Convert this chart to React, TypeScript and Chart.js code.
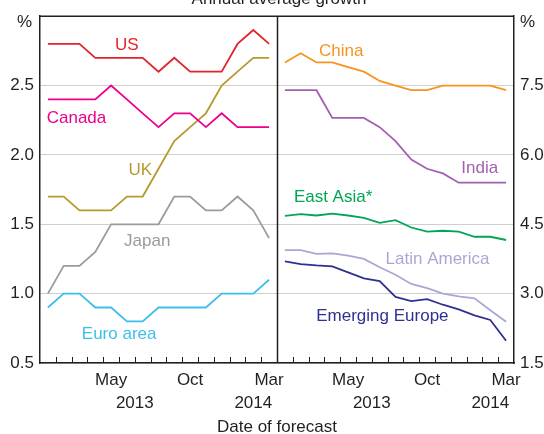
import React, { useEffect, useRef } from "react";
import { Chart, registerables } from "chart.js";

Chart.register(...registerables);

const months = ["Jan", "Feb", "Mar", "Apr", "May", "Jun", "Jul", "Aug", "Sep", "Oct", "Nov", "Dec", "Jan", "Feb", "Mar"];

// Left panel (% , 0.5–3.0)
const us = [2.8, 2.8, 2.8, 2.7, 2.7, 2.7, 2.7, 2.6, 2.7, 2.6, 2.6, 2.6, 2.8, 2.9, 2.8];
const canada = [2.4, 2.4, 2.4, 2.4, 2.5, 2.4, 2.3, 2.2, 2.3, 2.3, 2.2, 2.3, 2.2, 2.2, 2.2];
const uk = [1.7, 1.7, 1.6, 1.6, 1.6, 1.7, 1.7, 1.9, 2.1, 2.2, 2.3, 2.5, 2.6, 2.7, 2.7];
const japan = [1.0, 1.2, 1.2, 1.3, 1.5, 1.5, 1.5, 1.5, 1.7, 1.7, 1.6, 1.6, 1.7, 1.6, 1.4];
const euroArea = [0.9, 1.0, 1.0, 0.9, 0.9, 0.8, 0.8, 0.9, 0.9, 0.9, 0.9, 1.0, 1.0, 1.0, 1.1];

// Right panel (% , 1.5–9.0)
const china = [8.0, 8.2, 8.0, 8.0, 7.9, 7.8, 7.6, 7.5, 7.4, 7.4, 7.5, 7.5, 7.5, 7.5, 7.4];
const india = [7.4, 7.4, 7.4, 6.8, 6.8, 6.8, 6.6, 6.3, 5.9, 5.7, 5.6, 5.4, 5.4, 5.4, 5.4];
const eastAsia = [4.68, 4.72, 4.69, 4.73, 4.69, 4.64, 4.53, 4.59, 4.43, 4.34, 4.36, 4.34, 4.23, 4.23, 4.16];
const latinAmerica = [3.94, 3.94, 3.86, 3.87, 3.82, 3.75, 3.57, 3.41, 3.21, 3.12, 3.0, 2.94, 2.9, 2.64, 2.39];
const emergingEurope = [3.7, 3.64, 3.61, 3.59, 3.46, 3.33, 3.27, 2.93, 2.84, 2.88, 2.76, 2.66, 2.53, 2.43, 1.98];

const leftTicks = [0.5, 1.0, 1.5, 2.0, 2.5, 3.0];
const rightTicks = [1.5, 3.0, 4.5, 6.0, 7.5, 9.0];
const monthTickIdx = [4, 9, 14];
const years = [
  { label: "2013", at: 5.5 },
  { label: "2014", at: 13 },
];

const FONT = "'Liberation Sans', Arial, sans-serif";
const TXT = "#231f20";

type S = { name: string; data: number[]; color: string; panel: 0 | 1; lx: number; ly: number };
const series: S[] = [
  { name: "US", data: us, color: "#e2242b", panel: 0, lx: 5.0, ly: 2.755 },
  { name: "Canada", data: canada, color: "#ec008c", panel: 0, lx: 1.81, ly: 2.23 },
  { name: "UK", data: uk, color: "#b59b2f", panel: 0, lx: 5.85, ly: 1.856 },
  { name: "Japan", data: japan, color: "#9b9b9b", panel: 0, lx: 6.29, ly: 1.341 },
  { name: "Euro area", data: euroArea, color: "#3dbfeb", panel: 0, lx: 4.51, ly: 0.67 },
  { name: "China", data: china, color: "#f7941d", panel: 1, lx: 3.56, ly: 8.14 },
  { name: "India", data: india, color: "#a45fb2", panel: 1, lx: 12.33, ly: 5.61 },
  { name: "East Asia*", data: eastAsia, color: "#00a651", panel: 1, lx: 3.05, ly: 4.98 },
  { name: "Latin America", data: latinAmerica, color: "#aaa7d7", panel: 1, lx: 9.66, ly: 3.65 },
  { name: "Emerging Europe", data: emergingEurope, color: "#2e3192", panel: 1, lx: 6.17, ly: 2.4 },
];

const N = months.length;

const overlay = {
  id: "overlay",
  afterDraw(chart: any) {
    const { ctx, chartArea: ca, scales } = chart;
    const x = scales.x, y = scales.y, y2 = scales.y2;
    ctx.save();
    ctx.strokeStyle = TXT;
    ctx.lineWidth = 1.5;
    // top border
    ctx.beginPath();
    ctx.moveTo(ca.left, ca.top);
    ctx.lineTo(ca.right, ca.top);
    ctx.stroke();
    // divider
    const dx = Math.round(x.getPixelForValue(N - 0.5)) + 0.5;
    ctx.beginPath();
    ctx.moveTo(dx, ca.top);
    ctx.lineTo(dx, ca.bottom);
    ctx.stroke();
    // inner minor ticks at month boundaries
    ctx.lineWidth = 1;
    for (let i = 0; i < 2 * N - 1; i++) {
      if (i === N - 1) continue;
      const px = Math.round(x.getPixelForValue(i + 0.5)) + 0.5;
      ctx.beginPath();
      ctx.moveTo(px, ca.bottom);
      ctx.lineTo(px, ca.bottom - 6);
      ctx.stroke();
    }
    ctx.fillStyle = TXT;
    ctx.font = `17px ${FONT}`;
    ctx.textBaseline = "alphabetic";
    // years
    ctx.textAlign = "center";
    for (let p = 0; p < 2; p++) {
      for (const yr of years) {
        ctx.fillText(yr.label, x.getPixelForValue(yr.at + p * N), 408);
      }
    }
    // axis title
    ctx.fillText("Date of forecast", x.getPixelForValue(N - 0.5), 432);
    // chart title (partly cut off at top)
    ctx.fillText("Annual average growth", x.getPixelForValue(N - 0.5) + 2, 4);
    // % units
    ctx.textAlign = "right";
    ctx.fillText("%", ca.left - 8, 27);
    ctx.textAlign = "left";
    ctx.fillText("%", ca.right + 6, 27);
    // series labels
    ctx.textAlign = "center";
    for (const s of series) {
      ctx.fillStyle = s.color;
      const sc = s.panel === 0 ? y : y2;
      ctx.fillText(s.name, x.getPixelForValue(s.lx + s.panel * N), sc.getPixelForValue(s.ly));
    }
    ctx.restore();
  },
};

export default function App() {
  const ref = useRef<HTMLCanvasElement>(null);
  useEffect(() => {
    const datasets = series.map((s) => ({
      label: s.name,
      data: s.data.map((v, i) => ({ x: i + s.panel * N, y: v })),
      borderColor: s.color,
      backgroundColor: s.color,
      borderWidth: 1.8,
      pointRadius: 0,
      tension: 0,
      yAxisID: s.panel === 0 ? "y" : "y2",
    }));
    const chart = new Chart(ref.current!, {
      type: "line",
      data: { datasets },
      plugins: [overlay],
      options: {
        animation: false,
        responsive: false,
        devicePixelRatio: 1,
        layout: { padding: { top: 14, left: 0, right: 0, bottom: 0 } },
        plugins: { legend: { display: false }, tooltip: { enabled: false }, title: { display: false } },
        scales: {
          x: {
            type: "linear",
            min: -0.5,
            max: 2 * N - 0.5,
            afterBuildTicks: (scale: any) => {
              scale.ticks = [...monthTickIdx, ...monthTickIdx.map((v) => v + N)].map((v) => ({ value: v }));
            },
            afterFit: (scale: any) => {
              scale.height = 71;
            },
            ticks: {
              autoSkip: false,
              maxRotation: 0,
              padding: 7,
              color: TXT,
              font: { family: FONT, size: 17 },
              callback: (v: any) => months[Math.round(Number(v)) % N],
            },
            grid: { display: false, drawTicks: false },
            border: { display: true, color: TXT, width: 1.5 },
          },
          y: {
            position: "left",
            min: 0.5,
            max: 3.0,
            afterBuildTicks: (scale: any) => {
              scale.ticks = leftTicks.map((v) => ({ value: v }));
            },
            afterFit: (scale: any) => {
              scale.width = 40;
            },
            ticks: {
              padding: 6,
              color: TXT,
              font: { family: FONT, size: 17 },
              callback: (v: any) => (Number(v) >= 3.0 ? "" : Number(v).toFixed(1)),
            },
            grid: { color: "#cfcfcf", lineWidth: 1, drawTicks: false },
            border: { display: true, color: TXT, width: 1.5 },
          },
          y2: {
            position: "right",
            min: 1.5,
            max: 9.0,
            afterBuildTicks: (scale: any) => {
              scale.ticks = rightTicks.map((v) => ({ value: v }));
            },
            afterFit: (scale: any) => {
              scale.width = 30;
            },
            ticks: {
              padding: 6,
              color: TXT,
              font: { family: FONT, size: 17 },
              callback: (v: any) => (Number(v) >= 9.0 ? "" : Number(v).toFixed(1)),
            },
            grid: { display: false, drawTicks: false },
            border: { display: true, color: TXT, width: 1.5 },
          },
        },
      },
    } as any);
    return () => chart.destroy();
  }, []);
  return (
    <div style={{ position: "fixed", left: 0, top: 0, width: 544, height: 434, background: "#fff" }}>
      <canvas ref={ref} width={544} height={434} style={{ display: "block" }} />
    </div>
  );
}
